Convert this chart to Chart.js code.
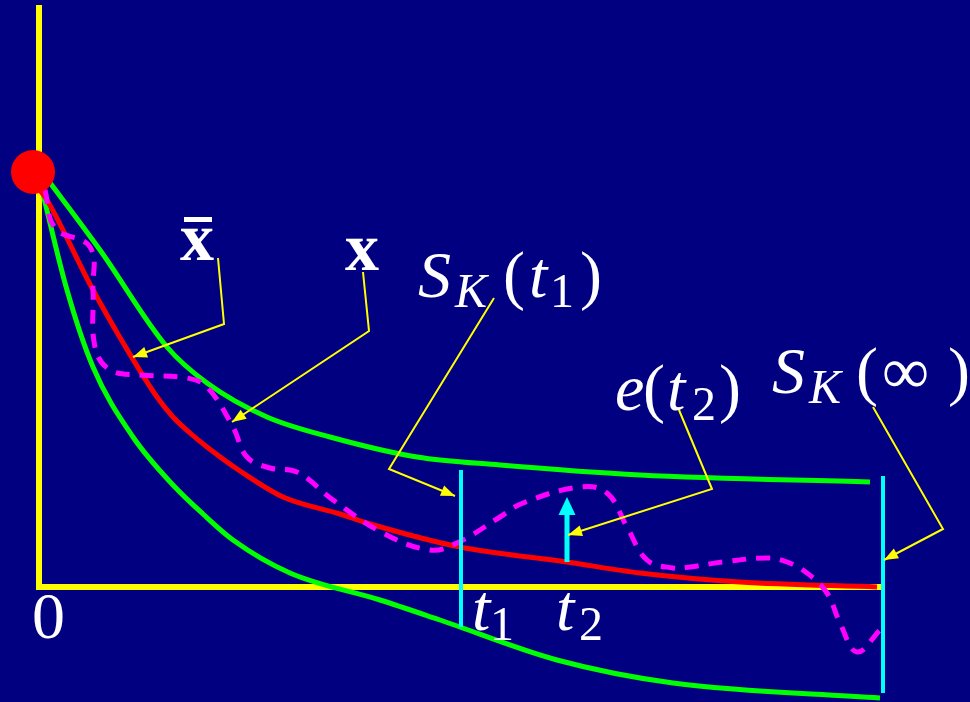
<!DOCTYPE html>
<html>
<head>
<meta charset="utf-8">
<script src="https://cdn.jsdelivr.net/npm/chart.js@4.4.0/dist/chart.umd.min.js"></script>
<style>
  html, body { margin: 0; padding: 0; background: #000080; }
  #wrap { width: 970px; height: 702px; position: relative; }
</style>
</head>
<body>
<div id="wrap"><canvas id="sketch"></canvas></div>
<script>
// plot units: t along the time axis, y for the state, origin at the yellow corner
const tRange = [-0.39, 9.31];
const yRange = [-1.15, 5.87];

const t1 = 4.22;
const t2 = 5.28;
const tEnd = 8.44;

const upperBound = [[0.06,4.11],[0.61,3.37],[1.28,2.40],[1.68,2.04],[2.28,1.70],[2.91,1.50],
  [3.78,1.30],[4.61,1.22],[6.01,1.12],[8.31,1.05]];
const lowerBound = [[0.03,3.97],[0.28,2.97],[0.54,2.20],[0.94,1.50],[1.34,1.02],[1.64,0.73],
  [1.94,0.47],[2.51,0.14],[3.41,-0.13],[4.01,-0.33],[5.18,-0.73],[6.34,-0.96],[8.41,-1.11]];
const meanPath = [[0.01,3.97],[0.08,3.87],[0.53,2.99],[0.86,2.41],[1.18,1.90],[1.34,1.70],
  [1.51,1.54],[1.68,1.40],[2.01,1.16],[2.44,0.90],[3.01,0.73],[3.28,0.64],[4.21,0.40],
  [5.28,0.25],[6.01,0.14],[7.01,0.05],[8.38,0.00]];
const samplePath = [[0.06,3.97],[0.16,3.59],[0.51,3.40],[0.54,2.97],[0.56,2.40],[0.71,2.17],
  [1.01,2.12],[1.48,2.09],[1.68,2.00],[1.94,1.60],[2.08,1.30],[2.31,1.19],[2.58,1.15],
  [2.94,0.87],[3.44,0.54],[3.91,0.37],[4.18,0.44],[4.61,0.70],[4.84,0.84],[5.41,1.00],
  [5.68,0.94],[5.88,0.60],[6.08,0.27],[6.34,0.19],[6.51,0.20],[6.84,0.25],[7.28,0.29],
  [7.48,0.25],[7.68,0.14],[7.88,-0.06],[8.01,-0.36],[8.18,-0.65],[8.41,-0.43]];
const startPoint = [[-0.06,4.15]];

const axisV = [[0,0],[0,5.79]];
const axisH = [[0,0],[8.43,0]];
const cutT1 = [[t1,1.17],[t1,-0.40]];
const cutEnd = [[tEnd,1.11],[tEnd,-1.06]];
const errArrow = [[t2,0.25],[t2,0.72]];

// callout leader lines, last point is the arrow tip
const leadXbar = [[1.79,3.29],[1.85,2.63],[0.94,2.30]];
const leadX = [[3.24,3.15],[3.30,2.56],[1.93,1.65]];
const leadSt1 = [[4.55,2.89],[3.50,1.18],[4.16,0.91]];
const leadErr = [[6.40,1.77],[6.73,0.98],[5.29,0.52]];
const leadSinf = [[8.34,1.80],[9.04,0.58],[8.45,0.27]];

// text labels: anchor in plot units, runs of [text, kind, dx px]
const labels = [
  { at: [1.41, 3.27], runs: [['x', 'b', 0]], bar: true },
  { at: [3.06, 3.17], runs: [['x', 'b', 0]] },
  { at: [3.79, 2.90], runs: [['S','i',0],['K','is',37],['(','r',85],['t','i',111],['1','rs',132],[')','r',162]] },
  { at: [5.76, 1.77], runs: [['e','i',0],['(','r',28],['t','i',52],['2','rs',77],[')','r',104]] },
  { at: [7.33, 1.94], runs: [['S','i',0],['K','is',37],['(','r',84],['\u221E','r',110],[')','r',176]] },
  { at: [-0.07, -0.51], runs: [['0','r',0]] },
  { at: [4.33, -0.43], runs: [['t','i',0],['1','rs',18]] },
  { at: [5.17, -0.43], runs: [['t','i',0],['2','rs',23]] }
];

const fonts = {
  i: 'italic 66px "Liberation Serif"',
  r: '66px "Liberation Serif"',
  is: 'italic 48px "Liberation Serif"',
  rs: '48px "Liberation Serif"',
  b: 'bold 68px "Liberation Serif"'
};

const pts = arr => arr.map(p => ({ x: p[0], y: p[1] }));

function line(data, color, width, extra) {
  return Object.assign({
    data: pts(data),
    showLine: true,
    borderColor: color,
    backgroundColor: color,
    borderWidth: width,
    pointRadius: 0,
    fill: false
  }, extra || {});
}

const bgFill = {
  id: 'bgFill',
  beforeDraw(chart) {
    const ctx = chart.ctx;
    ctx.save();
    ctx.fillStyle = '#000080';
    ctx.fillRect(0, 0, chart.width, chart.height);
    ctx.restore();
  }
};

const arrowHeads = {
  id: 'arrowHeads',
  afterDatasetDraw(chart, args) {
    const ds = chart.data.datasets[args.index];
    if (!ds.head) return;
    const els = args.meta.data;
    const a = els[els.length - 2], b = els[els.length - 1];
    const ang = Math.atan2(b.y - a.y, b.x - a.x);
    const h = ds.head;
    const ctx = chart.ctx;
    ctx.save();
    ctx.translate(b.x, b.y);
    ctx.rotate(ang);
    ctx.beginPath();
    if (h.atTip) {
      ctx.moveTo(0, 0); ctx.lineTo(-h.len, -h.half); ctx.lineTo(-h.len, h.half);
    } else {
      ctx.moveTo(h.len, 0); ctx.lineTo(0, -h.half); ctx.lineTo(0, h.half);
    }
    ctx.closePath();
    ctx.fillStyle = ds.borderColor;
    ctx.fill();
    ctx.restore();
  }
};

const mathText = {
  id: 'mathText',
  afterDraw(chart) {
    const ctx = chart.ctx;
    const sx = chart.scales.x, sy = chart.scales.y;
    ctx.save();
    ctx.fillStyle = '#ffffff';
    ctx.textBaseline = 'alphabetic';
    ctx.textAlign = 'left';
    labels.forEach(lb => {
      const x0 = sx.getPixelForValue(lb.at[0]);
      const y0 = sy.getPixelForValue(lb.at[1]);
      lb.runs.forEach(r => {
        ctx.font = fonts[r[1]];
        const sub = r[1] === 'is' || r[1] === 'rs';
        ctx.fillText(r[0], x0 + r[2], y0 + (sub ? 10 : 0));
      });
      if (lb.bar) {
        ctx.font = fonts.b;
        const w = ctx.measureText('x').width;
        ctx.fillRect(x0 + 4, y0 - 43, w - 6, 5);
      }
    });
    ctx.restore();
  }
};

new Chart(document.getElementById('sketch'), {
  type: 'scatter',
  data: {
    datasets: [
      Object.assign({ data: pts(startPoint), pointRadius: 22, pointBackgroundColor: '#ff0000',
        pointBorderWidth: 0, showLine: false }, { order: 0 }),
      line(leadXbar, '#ffff00', 2, { order: 1, head: { len: 14, half: 5.5, atTip: true } }),
      line(leadX, '#ffff00', 2, { order: 1, head: { len: 14, half: 5.5, atTip: true } }),
      line(leadSt1, '#ffff00', 2, { order: 1, head: { len: 14, half: 5.5, atTip: true } }),
      line(leadErr, '#ffff00', 2, { order: 1, head: { len: 14, half: 5.5, atTip: true } }),
      line(leadSinf, '#ffff00', 2, { order: 1, head: { len: 14, half: 5.5, atTip: true } }),
      line(errArrow, '#00ffff', 5, { order: 2, borderCapStyle: 'butt', head: { len: 18, half: 8.5, atTip: false } }),
      line(cutT1, '#00ffff', 4, { order: 2 }),
      line(cutEnd, '#00ffff', 4, { order: 2 }),
      line(samplePath, '#ff00ff', 5, { order: 3, tension: 0.4, borderDash: [14, 10] }),
      line(meanPath, '#ff0000', 5, { order: 4, cubicInterpolationMode: 'monotone' }),
      line(upperBound, '#00ff00', 5, { order: 5, cubicInterpolationMode: 'monotone' }),
      line(lowerBound, '#00ff00', 5, { order: 5, cubicInterpolationMode: 'monotone' }),
      line(axisV, '#ffff00', 6, { order: 6, borderCapStyle: 'square' }),
      line(axisH, '#ffff00', 6, { order: 6, borderCapStyle: 'square' })
    ]
  },
  options: {
    responsive: true,
    maintainAspectRatio: false,
    animation: false,
    events: [],
    layout: { padding: 0, autoPadding: false },
    plugins: { legend: { display: false }, tooltip: { enabled: false } },
    scales: {
      x: { type: 'linear', min: tRange[0], max: tRange[1], display: false },
      y: { type: 'linear', min: yRange[0], max: yRange[1], display: false }
    }
  },
  plugins: [bgFill, arrowHeads, mathText]
});
</script>
</body>
</html>
